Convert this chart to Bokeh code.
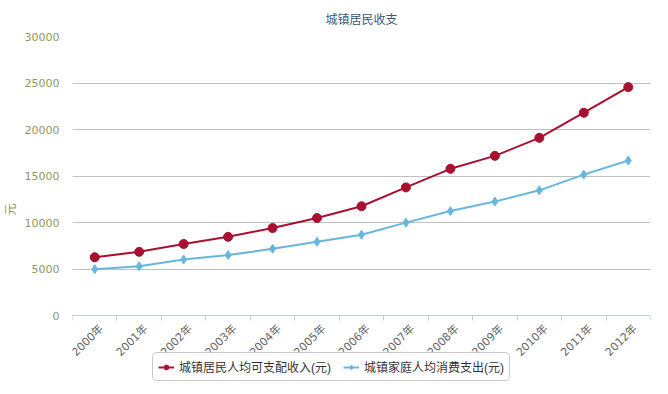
from bokeh.plotting import figure
from bokeh.models import FixedTicker, Legend, LegendItem, ColumnDataSource, Range1d
from bokeh.embed import file_html
from bokeh.resources import INLINE

years = ["2000年", "2001年", "2002年", "2003年", "2004年", "2005年", "2006年",
         "2007年", "2008年", "2009年", "2010年", "2011年", "2012年"]
income = [6280, 6860, 7703, 8472, 9422, 10493, 11759, 13786, 15781, 17175, 19109, 21810, 24565]
spending = [4998, 5309, 6030, 6511, 7182, 7943, 8697, 9997, 11243, 12265, 13471, 15161, 16674]
y_ticks = [0, 5000, 10000, 15000, 20000, 25000, 30000]

idx = list(range(len(years)))
src = ColumnDataSource(dict(x=idx, inc=income, spd=spending))

FONT = "'Liberation Sans', 'Noto Sans CJK SC'"
NUMFONT = "'DejaVu Sans', 'Noto Sans CJK SC'"

H = 384
TOP = 35
BOTTOM = 2
PLOT_H = 280  # pixels between 30000 and 0
frame_h = H - TOP - BOTTOM
Y_MAX = 30000
Y_MIN = -Y_MAX * (frame_h - PLOT_H) / PLOT_H

p = figure(width=652, height=H, output_backend="svg", toolbar_location=None,
           x_range=Range1d(-0.5, len(years) - 0.5), y_range=Range1d(Y_MIN, Y_MAX),
           title="城镇居民收支")
p.min_border_left = 59
p.min_border_right = 2
p.min_border_top = TOP
p.min_border_bottom = BOTTOM
p.outline_line_color = None
p.background_fill_color = "white"
p.border_fill_color = "white"

p.title.align = "center"
p.title.text_font = FONT
p.title.text_font_size = "12px"
p.title.text_font_style = "normal"
p.title.text_color = "#3E576F"
p.title.standoff = 20

# y axis
p.yaxis.ticker = FixedTicker(ticks=y_ticks)
p.yaxis.axis_line_color = None
p.yaxis.major_tick_line_color = None
p.yaxis.minor_tick_line_color = None
p.yaxis.major_label_text_color = "#8D9A5E"
p.yaxis.major_label_text_font = NUMFONT
p.yaxis.major_label_text_font_size = "11px"
p.yaxis.major_label_standoff = 7
p.yaxis.axis_label = "元"
p.yaxis.axis_label_text_color = "#8D9A5E"
p.yaxis.axis_label_text_font = FONT
p.yaxis.axis_label_text_font_size = "12px"
p.yaxis.axis_label_text_font_style = "normal"
p.yaxis.axis_label_standoff = 4
p.ygrid.grid_line_color = "#C0C0C0"
p.ygrid.grid_line_width = 1
p.xgrid.grid_line_color = None

# x axis, placed at y = 0; labels anchored slightly right of band centre
label_pos = [i + 0.15 for i in idx]
p.xaxis.fixed_location = 0
p.xaxis.ticker = FixedTicker(ticks=label_pos, minor_ticks=[i - 0.5 for i in range(len(years) + 1)])
p.xaxis.major_label_overrides = {label_pos[i]: years[i] for i in idx}
p.xaxis.major_tick_line_color = None
p.xaxis.minor_tick_line_color = "#C0D0E0"
p.xaxis.minor_tick_in = 0
p.xaxis.minor_tick_out = 5
p.xaxis.axis_line_color = "#C0D0E0"
p.xaxis.major_label_orientation = 0.785398
p.xaxis.major_label_text_color = "#666666"
p.xaxis.major_label_text_font = NUMFONT
p.xaxis.major_label_text_font_size = "11px"
p.xaxis.major_label_standoff = 5

RED = "#A8102F"
BLUE = "#68B6DC"

l1 = p.line("x", "inc", source=src, line_color=RED, line_width=2)
m1 = p.scatter("x", "inc", source=src, marker="circle", size=9, fill_color=RED, line_color=RED)
l2 = p.line("x", "spd", source=src, line_color=BLUE, line_width=2)
m2 = p.scatter("x", "spd", source=src, marker="diamond", size=9, fill_color=BLUE, line_color=BLUE)

legend = Legend(items=[LegendItem(label="城镇居民人均可支配收入(元)", renderers=[l1, m1]),
                       LegendItem(label="城镇家庭人均消费支出(元)", renderers=[l2, m2])],
                orientation="horizontal", location=(80, 1),
                label_text_font=FONT, label_text_font_size="12px", label_text_color="#333333",
                border_line_color="#909090", border_line_width=1,
                glyph_width=16, glyph_height=12, spacing=12, padding=5, margin=0,
                label_standoff=5)
try:
    legend.border_radius = 5
except Exception:
    pass
p.add_layout(legend)

open("out.html", "w").write(file_html(p, INLINE))
